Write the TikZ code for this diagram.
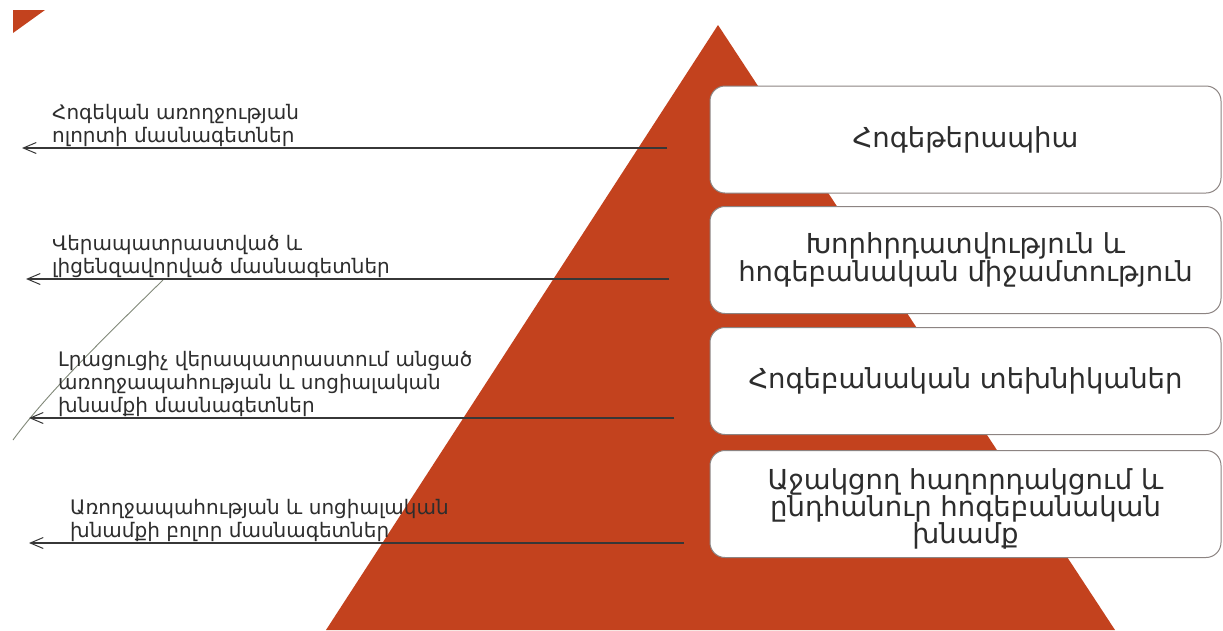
\documentclass[tikz,border=0pt]{standalone}
\usepackage{fontspec}
\setmainfont{DejaVu Sans}
\usetikzlibrary{arrows.meta}
\definecolor{tri}{RGB}{195,66,30}
\definecolor{boxline}{RGB}{140,132,130}
\definecolor{txt}{RGB}{45,45,45}
\definecolor{arrline}{RGB}{55,55,55}
\definecolor{curvecol}{RGB}{128,136,120}
\tikzset{
  levelbox/.style={draw=boxline, line width=1pt, fill=white, rounded corners=15pt,
    minimum width=511pt, minimum height=107pt, inner sep=0pt, align=center,
    text=txt, font=\fontsize{27.5}{28.5}\selectfont},
  sidelabel/.style={anchor=south west, inner sep=0pt, align=left, text=txt,
    font=\fontsize{20}{23}\selectfont},
  arr/.style={draw=arrline, line width=1.1pt, -{Straight Barb[length=13pt,width=11pt,line width=1pt]}}
}
\begin{document}
\begin{tikzpicture}[x=1pt,y=-1pt]
\useasboundingbox (0,0) rectangle (1223,630);
% pyramid
\fill[tri] (718,25) -- (1115,630) -- (326,630) -- cycle;
% corner mark
\fill[tri] (13,10) -- (45,10) -- (13,33) -- cycle;
% thin decorative curve
\draw[curvecol, line width=0.9pt] (163,280) .. controls (110,332) and (48,392) .. (13,440);
% boxes
\node[levelbox] (b1) at (965.5,139.5) {Հոգեթերապիա};
\node[levelbox] (b2) at (965.5,260) {Խորհրդատվություն և\\հոգեբանական միջամտություն};
\node[levelbox] (b3) at (965.5,381) {Հոգեբանական տեխնիկաներ};
\node[levelbox] (b4) at (965.5,504) {};
\node[align=center, text=txt, font=\fontsize{27.5}{27}\selectfont, inner sep=0pt] (t4) at (965.5,509) {Աջակցող հաղորդակցում և\\ընդհանուր հոգեբանական\\խնամք};
% arrows
\coordinate (s1) at (667,148);
\coordinate (e1) at (22,148);
\coordinate (s2) at (669,279);
\coordinate (e2) at (26,279);
\coordinate (s3) at (674,418);
\coordinate (e3) at (29,418);
\coordinate (s4) at (684,543);
\coordinate (e4) at (29,543);
\draw[arr] (s1) -- (e1);
\draw[arr] (s2) -- (e2);
\draw[arr] (s3) -- (e3);
\draw[arr] (s4) -- (e4);
% labels
\node[sidelabel] (l1) at (52,146.5) {Հոգեկան առողջության\\ոլորտի մասնագետներ};
\node[sidelabel] (l2) at (52,277.5) {Վերապատրաստված և\\լիցենզավորված մասնագետներ};
\node[sidelabel] (l3) at (58,416.5) {Լրացուցիչ վերապատրաստում անցած\\առողջապահության և սոցիալական\\խնամքի մասնագետներ};
\node[sidelabel] (l4) at (70,541.5) {Առողջապահության և սոցիալական\\խնամքի բոլոր մասնագետներ};
\end{tikzpicture}
\end{document}
